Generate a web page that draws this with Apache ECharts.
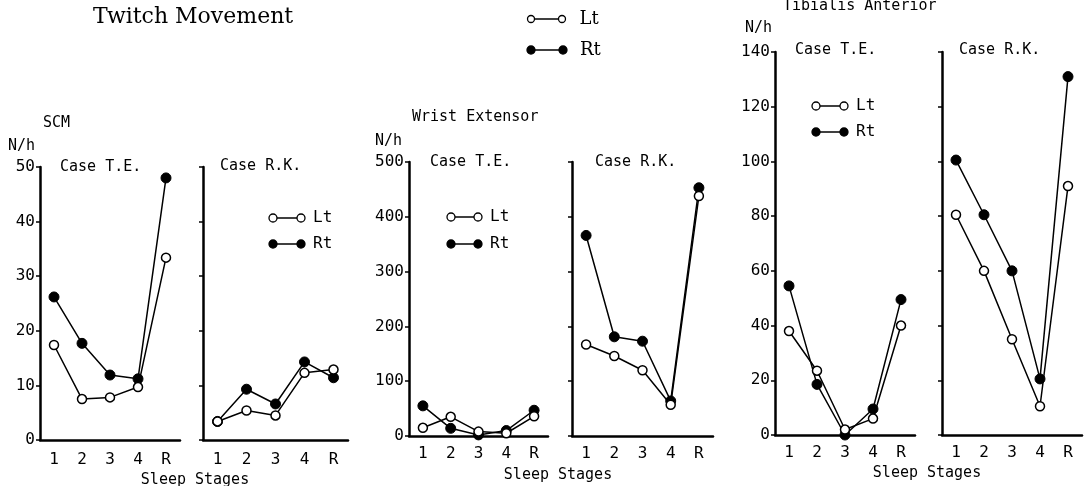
<!DOCTYPE html>
<html>
<head>
<meta charset="utf-8">
<script src="https://cdn.jsdelivr.net/npm/echarts@6/dist/echarts.min.js"></script>
<style>
  html, body { margin: 0; padding: 0; background: #fff; }
  #chart { width: 1088px; height: 486px; }
</style>
</head>
<body>
<div id="chart"></div>
<script>
// sleep stages on every x axis
const stages = ['1', '2', '3', '4', 'R']

// SCM (N/h, 0-50)
const scmTeLt = [17.4, 7.5, 7.8, 9.7, 33.4]
const scmTeRt = [26.2, 17.7, 11.9, 11.2, 48.0]
const scmRkLt = [3.4, 5.4, 4.5, 12.3, 12.9]
const scmRkRt = [3.4, 9.3, 6.6, 14.3, 11.4]

// Wrist Extensor (N/h, 0-500)
const weTeLt = [15, 35, 8, 5, 36]
const weTeRt = [55, 14, 2, 10, 47]
const weRkLt = [167, 146, 120, 57, 438]
const weRkRt = [366, 181, 173, 64, 453]

// Tibialis Anterior (N/h, 0-140)
const taTeLt = [38, 23.5, 2, 6, 40]
const taTeRt = [54.5, 18.5, 0, 9.5, 49.5]
const taRkLt = [80.5, 60, 35, 10.5, 91]
const taRkRt = [100.5, 80.5, 60, 20.5, 131]

// y scales per muscle
const scmTicks = { max: 50, interval: 10 }
const weTicks = { max: 500, interval: 100 }
const taTicks = { max: 140, interval: 20 }

const MONO = '"DejaVu Sans Mono", monospace'
const SERIF = '"DejaVu Serif", serif'
const INK = '#000'

// panel layout: [left, top, width, height]
const panels = [
  { box: [40, 167, 140, 273], ticks: scmTicks, labels: true, lt: scmTeLt, rt: scmTeRt, xMargin: 12 },
  { box: [203, 167, 145, 273], ticks: scmTicks, labels: false, lt: scmRkLt, rt: scmRkRt, xMargin: 12 },
  { box: [409, 162, 139, 274], ticks: weTicks, labels: true, lt: weTeLt, rt: weTeRt, xMargin: 10 },
  { box: [572, 162, 141, 274], ticks: weTicks, labels: false, lt: weRkLt, rt: weRkRt, xMargin: 10 },
  { box: [775, 52, 140, 383], ticks: taTicks, labels: true, lt: taTeLt, rt: taTeRt, xMargin: 10 },
  { box: [942, 52, 140, 383], ticks: taTicks, labels: false, lt: taRkLt, rt: taRkRt, xMargin: 10 }
]

const grid = panels.map(p => ({
  left: p.box[0], top: p.box[1], width: p.box[2], height: p.box[3]
}))

const xAxis = panels.map((p, i) => ({
  type: 'category',
  gridIndex: i,
  data: stages,
  boundaryGap: true,
  axisLine: { lineStyle: { color: INK, width: 2.5 } },
  axisTick: { show: false },
  axisLabel: { color: INK, fontFamily: MONO, fontSize: 16, margin: p.xMargin }
}))

const yAxis = panels.map((p, i) => ({
  type: 'value',
  gridIndex: i,
  min: 0,
  max: p.ticks.max,
  interval: p.ticks.interval,
  axisLine: { show: true, lineStyle: { color: INK, width: 2.5 } },
  axisTick: { show: true, length: 4, lineStyle: { color: INK, width: 1.5 } },
  splitLine: { show: false },
  axisLabel: { show: p.labels, color: INK, fontFamily: MONO, fontSize: 16, margin: 5 }
}))

const series = []
panels.forEach((p, i) => {
  series.push({
    name: 'Rt', type: 'line', xAxisIndex: i, yAxisIndex: i, data: p.rt,
    symbol: 'circle', symbolSize: 10,
    lineStyle: { color: INK, width: 1.5 },
    itemStyle: { color: INK, borderColor: INK, borderWidth: 1 },
    animation: false
  })
  series.push({
    name: 'Lt', type: 'line', xAxisIndex: i, yAxisIndex: i, data: p.lt,
    symbol: 'circle', symbolSize: 9,
    lineStyle: { color: INK, width: 1.5 },
    itemStyle: { color: '#fff', borderColor: INK, borderWidth: 1.5 },
    animation: false
  })
})

function label(text, x, y, font, align) {
  return {
    type: 'text', z: 10,
    style: { text, x, y, font, fill: INK, align: align || 'left', verticalAlign: 'middle' }
  }
}

// o—o / ●—● key drawn as decoration
function key(x, y, gap, r, filled, text, font, pad) {
  return {
    type: 'group', z: 10,
    children: [
      { type: 'line', shape: { x1: x, y1: y, x2: x + gap, y2: y }, style: { stroke: INK, lineWidth: 1.5 } },
      { type: 'circle', shape: { cx: x, cy: y, r }, style: { fill: filled ? INK : '#fff', stroke: INK, lineWidth: 1.3 } },
      { type: 'circle', shape: { cx: x + gap, cy: y, r }, style: { fill: filled ? INK : '#fff', stroke: INK, lineWidth: 1.3 } },
      label(text, x + gap + r + (pad || 8), y, font)
    ]
  }
}

const f15 = '15px ' + MONO
const f16 = '16px ' + MONO

const graphic = [
  label('Twitch Movement', 93, 17, '22px ' + SERIF),
  key(531, 19, 31, 3.5, false, 'Lt', '18px ' + SERIF, 14),
  key(531, 50, 32, 4, true, 'Rt', '18px ' + SERIF, 13),

  label('SCM', 43, 123, '15px ' + MONO),
  label('N/h', 8, 146, f15),
  label('Case T.E.', 60, 167, f15),
  label('Case R.K.', 220, 166, f15),
  key(273, 218, 28, 4, false, 'Lt', f16),
  key(273, 244, 28, 4, true, 'Rt', f16),
  label('Sleep Stages', 195, 480, f15, 'center'),

  label('Wrist Extensor', 412, 117, '15px ' + MONO),
  label('N/h', 375, 141, f15),
  label('Case T.E.', 430, 162, f15),
  label('Case R.K.', 595, 162, f15),
  key(451, 217, 27, 4, false, 'Lt', f16),
  key(451, 244, 27, 4, true, 'Rt', f16),
  label('Sleep Stages', 558, 475, f15, 'center'),

  label('Tibialis Anterior', 783, 6, '15px ' + MONO),
  label('N/h', 745, 28, f15),
  label('Case T.E.', 795, 50, f15),
  label('Case R.K.', 959, 50, f15),
  key(816, 106, 28, 4, false, 'Lt', f16),
  key(816, 132, 28, 4, true, 'Rt', f16),
  label('Sleep Stages', 927, 473, f15, 'center')
]

const chart = echarts.init(document.getElementById('chart'), null, { renderer: 'canvas' })
chart.setOption({
  backgroundColor: '#fff',
  animation: false,
  grid,
  xAxis,
  yAxis,
  series,
  graphic
})
</script>
</body>
</html>
